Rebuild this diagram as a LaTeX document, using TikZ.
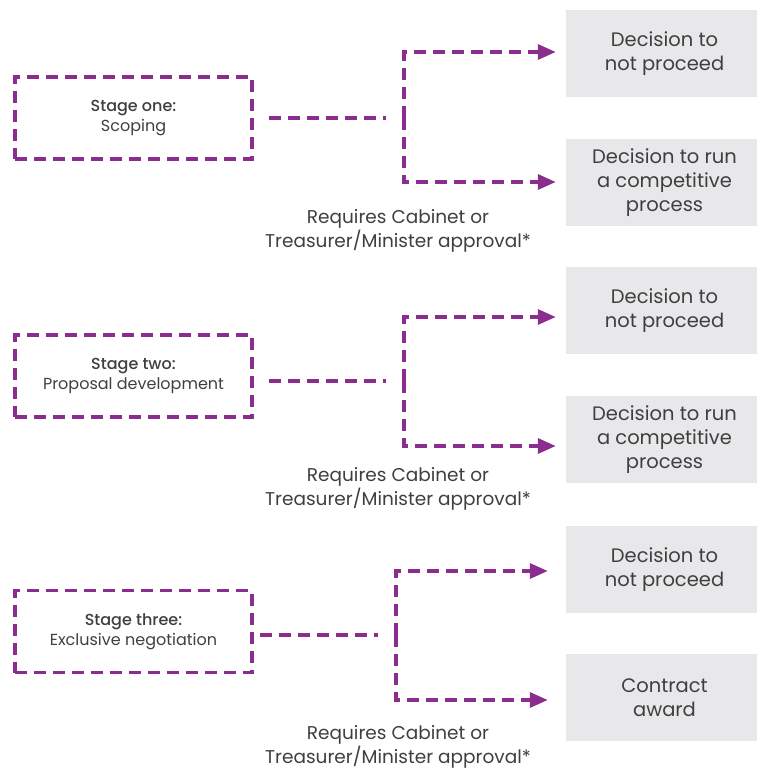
\documentclass[tikz,border=0pt]{standalone}
\usepackage{fontspec}
\setmainfont{Poppins}
\usetikzlibrary{arrows.meta,calc}
\definecolor{vpurple}{HTML}{8B2C8F}
\definecolor{vgray}{HTML}{E8E8EA}
\definecolor{vtext}{HTML}{3F3F3F}
\tikzset{
  stagebox/.style={draw=vpurple, line width=3.3pt, dash pattern=on 12pt off 7pt, minimum width=237pt, minimum height=82pt, inner sep=0pt, align=center, font=\fontsize{16}{20}\selectfont, text=vtext},
  decbox/.style={fill=vgray, minimum width=191pt, minimum height=87pt, inner sep=0pt, align=center, font=\fontsize{19.5}{24}\selectfont, text=vtext},
  conn/.style={draw=vpurple, line width=3.3pt, dash pattern=on 12pt off 7pt},
  arr/.style={conn, -{Triangle[length=18pt,width=15pt]}},
  note/.style={align=center, font=\fontsize{18.5}{24}\selectfont, text=vtext, inner sep=0pt}
}
\begin{document}
\begin{tikzpicture}[x=1pt,y=-1pt]
\useasboundingbox (0,0) rectangle (757,769);
% stage one
\node[stagebox] (s1) at (133.5,118) {{\fontspec{Poppins Medium}Stage one:}\\Scoping};
\node[decbox] (d1a) at (661.5,53.5) {\hspace*{6pt}Decision to\\\hspace*{6pt}not proceed};
\node[decbox] (d1b) at (661.5,182.5) {\hspace*{6pt}Decision to run\\\hspace*{6pt}a competitive\\\hspace*{6pt}process};
\coordinate (h1) at (386,118);
\coordinate (v1) at (404,118);
\draw[conn] ($(s1.east)+(15,0)$) -- (h1);
\draw[arr] (v1) |- ($(d1a.west)+(-10,-1.5)$);
\draw[arr] (v1) |- ($(d1b.west)+(-10,-0.5)$);
\node[note] (n1) at (398,231) {Requires Cabinet or\\Treasurer/Minister approval*};
% stage two
\node[stagebox] (s2) at (133.5,376) {{\fontspec{Poppins Medium}Stage two:}\\Proposal development};
\node[decbox] (d2a) at (661.5,310.5) {\hspace*{6pt}Decision to\\\hspace*{6pt}not proceed};
\node[decbox] (d2b) at (661.5,439.5) {\hspace*{6pt}Decision to run\\\hspace*{6pt}a competitive\\\hspace*{6pt}process};
\coordinate (h2) at (386,381);
\coordinate (v2) at (404,381);
\draw[conn] ($(s2.east|-h2)+(15,0)$) -- (h2);
\draw[arr] (v2) |- ($(d2a.west)+(-10,6.5)$);
\draw[arr] (v2) |- ($(d2b.west)+(-10,6.5)$);
\node[note] (n2) at (398,489) {Requires Cabinet or\\Treasurer/Minister approval*};
% stage three
\node[stagebox] (s3) at (133.5,631.5) {{\fontspec{Poppins Medium}Stage three:}\\Exclusive negotiation};
\node[decbox] (d3a) at (661.5,569.5) {\hspace*{6pt}Decision to\\\hspace*{6pt}not proceed};
\node[decbox] (d3b) at (661.5,697.5) {\hspace*{6pt}Contract\\\hspace*{6pt}award};
\coordinate (h3) at (378,635);
\coordinate (v3) at (396,635);
\draw[conn] ($(s3.east|-h3)+(6,0)$) -- (h3);
\draw[arr] (v3) |- ($(d3a.west)+(-18,1.5)$);
\draw[arr] (v3) |- ($(d3b.west)+(-18,2.5)$);
\node[note] (n3) at (398,747) {Requires Cabinet or\\Treasurer/Minister approval*};
\end{tikzpicture}
\end{document}
